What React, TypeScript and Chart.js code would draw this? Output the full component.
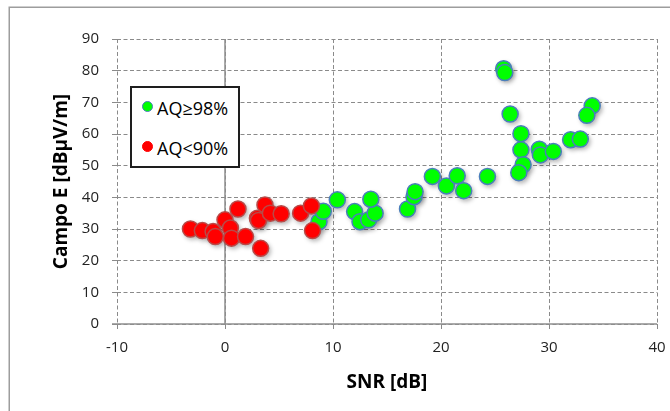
import React, { useEffect, useRef } from "react";
import { Chart, registerables } from "chart.js";

Chart.register(...registerables);

// Measurements: signal-to-noise ratio [dB] vs. field strength [dBµV/m]
const snrHigh = [
  8.7, 9.1, 10.4, 12.0, 12.5, 13.3, 13.9, 13.5, 16.9, 17.5, 17.6, 19.2, 20.5,
  21.5, 22.1, 24.3, 25.8, 25.9, 26.4, 27.4, 27.4, 27.6, 27.2, 29.1, 29.2, 30.4,
  32.0, 32.9, 34.0, 33.5,
];
const fieldHigh = [
  32.3, 35.6, 39.2, 35.5, 32.3, 32.9, 35.0, 39.4, 36.3, 40.2, 41.8, 46.6, 43.6,
  46.8, 42.1, 46.6, 80.6, 79.4, 66.3, 60.1, 55.0, 50.3, 47.8, 55.2, 53.4, 54.5,
  58.2, 58.4, 68.9, 65.9,
];

const snrLow = [
  -3.2, -2.1, -1.1, -0.9, 0.0, 0.5, 0.6, 1.2, 1.9, 3.0, 3.1, 3.3, 3.7, 4.2, 5.2,
  7.0, 8.0, 8.1,
];
const fieldLow = [
  30.0, 29.5, 29.2, 27.6, 32.9, 30.3, 27.1, 36.3, 27.6, 33.4, 32.7, 23.9, 37.6,
  35.0, 34.8, 35.0, 37.3, 29.5,
];

const seriesLabels = ["AQ≥98%", "AQ<90%"];
const xTitle = "SNR [dB]";
const yTitle = "Campo E [dBµV/m]";
const xMin = -10;
const xMax = 40;
const xStep = 10;
const yMin = 0;
const yMax = 90;
const yStep = 10;

const FONT = "'Open Sans', 'DejaVu Sans', sans-serif";
const GREEN = "#00ff00";
const GREEN_EDGE = "#4a7ebb";
const RED = "#ff0000";
const RED_EDGE = "#b84a48";

const toPoints = (xs: number[], ys: number[]) =>
  xs.map((x, i) => ({ x, y: ys[i] }));

// Background, outer frame, solid zero lines and soft marker shadows
const decorPlugin = {
  id: "decor",
  beforeDraw(chart: any) {
    const { ctx, width, height } = chart;
    ctx.save();
    ctx.fillStyle = "#ffffff";
    ctx.fillRect(0, 0, width, height);
    ctx.strokeStyle = "#9d9d9d";
    ctx.lineWidth = 1.5;
    ctx.strokeRect(9.25, 7.25, width + 20, height + 20);
    ctx.restore();
  },
  beforeDatasetsDraw(chart: any) {
    const { ctx, chartArea, scales } = chart;
    const x0 = scales.x.getPixelForValue(0);
    const y0 = scales.y.getPixelForValue(0);
    ctx.save();
    ctx.strokeStyle = "#8e8e8e";
    ctx.lineWidth = 1.5;
    ctx.beginPath();
    ctx.moveTo(x0, chartArea.top);
    ctx.lineTo(x0, chartArea.bottom);
    ctx.moveTo(chartArea.left - 5, y0);
    ctx.lineTo(chartArea.right, y0);
    ctx.stroke();

    // shadows under the markers
    ctx.filter = "blur(2px)";
    ctx.fillStyle = "rgba(0,0,0,0.28)";
    chart.data.datasets.forEach((_: any, di: number) => {
      const meta = chart.getDatasetMeta(di);
      meta.data.forEach((pt: any) => {
        ctx.beginPath();
        ctx.arc(pt.x + 2, pt.y + 2.5, 8.5, 0, Math.PI * 2);
        ctx.fill();
      });
    });
    ctx.restore();
  },
};

export default function App() {
  const canvasRef = useRef<HTMLCanvasElement | null>(null);

  useEffect(() => {
    if (!canvasRef.current) return;
    const chart = new Chart(canvasRef.current, {
      type: "scatter",
      data: {
        datasets: [
          {
            label: seriesLabels[1],
            data: toPoints(snrLow, fieldLow),
            backgroundColor: RED,
            borderColor: RED_EDGE,
            borderWidth: 1.5,
            pointRadius: 8,
            pointHoverRadius: 8,
          },
          {
            label: seriesLabels[0],
            data: toPoints(snrHigh, fieldHigh),
            backgroundColor: GREEN,
            borderColor: GREEN_EDGE,
            borderWidth: 1.5,
            pointRadius: 8,
            pointHoverRadius: 8,
          },
        ],
      },
      options: {
        animation: false,
        responsive: false,
        maintainAspectRatio: false,
        events: [],
        layout: { padding: { left: 0, top: 39, right: 13, bottom: 0 } },
        plugins: {
          legend: { display: false },
          tooltip: { enabled: false },
        },
        scales: {
          x: {
            type: "linear",
            min: xMin,
            max: xMax,
            afterFit(scale: any) {
              scale.height = 87;
              scale.paddingLeft = 0;
              scale.paddingRight = 0;
            },
            ticks: {
              stepSize: xStep,
              color: "#222222",
              font: { family: FONT, size: 15 },
              padding: 10,
              maxRotation: 0,
            },
            grid: {
              color: "#8a8a8a",
              lineWidth: 1,
              tickLength: 5,
              tickColor: "#8a8a8a",
            },
            border: { display: false, dash: [4, 2.5] },
            title: {
              display: true,
              text: xTitle,
              color: "#000000",
              font: { family: FONT, size: 19, weight: "bold" },
              padding: { top: 0, bottom: 17.5 },
            },
          },
          y: {
            type: "linear",
            min: yMin,
            max: yMax,
            afterFit(scale: any) {
              scale.width = 117;
              scale.paddingTop = 0;
              scale.paddingBottom = 0;
            },
            ticks: {
              stepSize: yStep,
              color: "#222222",
              font: { family: FONT, size: 15 },
              padding: 13,
            },
            grid: {
              color: "#8a8a8a",
              lineWidth: 1,
              tickLength: 5,
              tickColor: "#8a8a8a",
            },
            border: { display: false, dash: [4, 2.5] },
            title: {
              display: true,
              text: yTitle,
              color: "#000000",
              font: { family: FONT, size: 19, weight: "bold" },
              padding: { top: 50, bottom: 0 },
            },
          },
        },
      } as any,
      plugins: [decorPlugin],
    });
    return () => chart.destroy();
  }, []);

  const legendItem = (
    label: string,
    fill: string,
    edge: string,
    markerTop: number,
    textTop: number
  ) => (
    <>
      <div
        style={{
          position: "absolute",
          left: 141.5,
          top: markerTop,
          width: 9,
          height: 9,
          borderRadius: "50%",
          background: fill,
          border: `1.5px solid ${edge}`,
        }}
      />
      <div
        style={{
          position: "absolute",
          left: 157,
          top: textTop,
          font: `18px ${FONT}`,
          lineHeight: "20px",
          color: "#000",
          whiteSpace: "nowrap",
        }}
      >
        {label}
      </div>
    </>
  );

  return (
    <div
      style={{
        position: "absolute",
        left: 0,
        top: 0,
        width: 670,
        height: 411,
        background: "#fff",
      }}
    >
      <canvas ref={canvasRef} width={670} height={411} style={{ display: "block" }} />
      <div
        style={{
          position: "absolute",
          left: 130,
          top: 86,
          width: 106,
          height: 78,
          border: "2px solid #1e1e1e",
          background: "#fff",
        }}
      />
      {legendItem(seriesLabels[0], GREEN, GREEN_EDGE, 101, 98)}
      {legendItem(seriesLabels[1], RED, RED, 141, 138)}
    </div>
  );
}
